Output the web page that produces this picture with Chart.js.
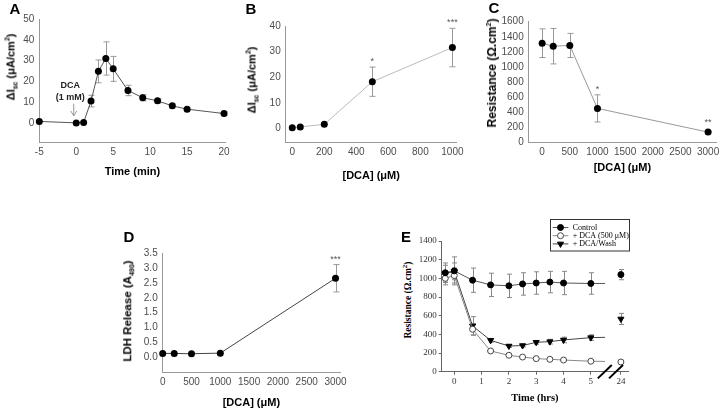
<!DOCTYPE html>
<html lang="en">
<head>
  <meta charset="UTF-8">
  <title>DCA effects on Isc, resistance and LDH release</title>
  <script src="https://cdn.jsdelivr.net/npm/chart.js"></script>
  <style>
    body { margin: 0; background: #fff; }
    #fig { position: relative; width: 720px; height: 410px; overflow: hidden; font-family: "Liberation Sans", Arial, sans-serif; }
    #fig canvas { position: absolute; }
    .letter { position: absolute; font-weight: bold; font-size: 15px; transform: translate(-50%, -50%); line-height: 1; }
    .yt { position: absolute; transform: translate(-50%, -50%) rotate(-90deg); white-space: nowrap; font-weight: bold; font-size: 11px; line-height: 1; color: #000; }
    .yt sub, .yt sup { font-size: 7px; line-height: 0; }
    .serif { font-family: "Liberation Serif", "Times New Roman", serif; }
  </style>
</head>
<body>
<div id="fig">
  <canvas id="chartA" width="240" height="200" style="left:0;top:0"></canvas>
  <canvas id="chartB" width="240" height="200" style="left:240px;top:0"></canvas>
  <canvas id="chartC" width="240" height="200" style="left:480px;top:0"></canvas>
  <canvas id="chartD" width="300" height="195" style="left:60px;top:215px"></canvas>
  <canvas id="chartE" width="300" height="195" style="left:420px;top:215px"></canvas>

  <!-- panel letters -->
  <div class="letter" style="left:15px;top:8px">A</div>
  <div class="letter" style="left:251px;top:8px">B</div>
  <div class="letter" style="left:494px;top:7px">C</div>
  <div class="letter" style="left:129px;top:236px">D</div>
  <div class="letter" style="left:406px;top:236px">E</div>

  <!-- y axis titles -->
  <div class="yt" style="left:11px;top:67px">ΔI<sub>sc</sub> (μA/cm<sup>2</sup>)</div>
  <div class="yt" style="left:252px;top:80px">ΔI<sub>sc</sub> (μA/cm<sup>2</sup>)</div>
  <div class="yt" style="left:492px;top:73px;font-size:12px">Resistance (Ω.cm<sup>2</sup>)</div>
  <div class="yt" style="left:128px;top:311px;font-size:11.5px">LDH Release (A<sub>490</sub>)</div>
  <div class="yt serif" style="left:409px;top:300px;font-size:9.5px">Resistance (Ω.cm<sup>2</sup>)</div>
</div>

<script>
  // ---- data ----
  // A: Isc time course after 1 mM DCA
  const timeA = [-5, 0, 1, 2, 3, 4, 5, 7, 9, 11, 13, 15, 20];
  const iscA = [0.7, 0, 0.2, 10.5, 24.8, 31, 26, 15.6, 12.1, 10.6, 8.2, 6.6, 4.5];
  const iscAErr = [0, 0, 0, 2.8, 5.5, 8, 6, 2.5, 1.5, 1, 1, 0.8, 1];
  const xTicksA = [-5, 0, 5, 10, 15, 20];
  const yTicksA = [0, 10, 20, 30, 40, 50];
  const dcaTime = 0;

  // B: Isc vs DCA dose
  const doseB = [0, 50, 200, 500, 1000];
  const iscB = [0.4, 0.7, 1.7, 18.3, 31.6];
  const iscBErr = [0, 0, 0, 5.7, 7.5];
  const starsB = ['', '', '', '*', '***'];
  const xTicksB = [0, 200, 400, 600, 800, 1000];
  const yTicksB = [0, 10, 20, 30, 40];

  // C: resistance vs DCA dose
  const doseC = [0, 200, 500, 1000, 3000];
  const resC = [1315, 1275, 1285, 450, 135];
  const resCErr = [190, 235, 160, 180, 10];
  const starsC = ['', '', '', '*', '**'];
  const xTicksC = [0, 500, 1000, 1500, 2000, 2500, 3000];
  const yTicksC = [0, 200, 400, 600, 800, 1000, 1200, 1400, 1600];

  // D: LDH release vs DCA dose
  const doseD = [0, 200, 500, 1000, 3000];
  const ldhD = [0.13, 0.13, 0.12, 0.14, 2.66];
  const ldhDErr = [0, 0, 0, 0, 0.46];
  const starsD = ['', '', '', '', '***'];
  const xTicksD = [0, 500, 1000, 1500, 2000, 2500, 3000];
  const yTicksD = [0, 0.5, 1, 1.5, 2, 2.5, 3, 3.5];

  // E: resistance over time (hrs)
  const timeE = [-0.33, 0, 0.67, 1.33, 2, 2.5, 3, 3.5, 4, 5, 24];
  const control = [1060, 1080, 980, 930, 920, 940, 950, 960, 950, 945, 1040];
  const controlErr = [105, 150, 130, 125, 125, 120, 120, 115, 125, 115, 55];
  const dca500 = [1000, 1030, 455, 222, 176, 157, 140, 133, 125, 112, 104];
  const dca500Err = [70, 80, 60, 0, 0, 0, 0, 0, 0, 0, 0];
  const dcaWash = [1050, 1075, 490, 336, 275, 280, 315, 322, 340, 365, 565];
  const dcaWashErr = [90, 90, 100, 20, 15, 15, 20, 25, 30, 30, 60];
  const lineEndE = [945, 110, 368];   // where the 0-5 h lines stop, before the break
  const xTicksE = [0, 1, 2, 3, 4, 5, 24];
  const yTicksE = [0, 200, 400, 600, 800, 1000, 1200, 1400];
  const legendE = ['Control', '+ DCA (500 μM)', '+ DCA/Wash'];

  // ---- helpers ----
  const sans = '"Liberation Sans", Arial, sans-serif';
  const serif = '"Liberation Serif", "Times New Roman", serif';
  // axis break in E: 24 h is drawn just after the break
  const breakStart = 5.52, pos24 = 6.1;
  const posE = t => (t === 24 ? pos24 : t);

  const pairs = (xs, ys) => xs.map((x, i) => ({ x: x, y: ys[i] }));

  // vertical error bars with caps, under the lines
  const errorBars = {
    id: 'errorBars',
    beforeDatasetsDraw(chart) {
      const ctx = chart.ctx, y = chart.scales.y;
      chart.data.datasets.forEach((ds, di) => {
        if (!ds.errors) return;
        const meta = chart.getDatasetMeta(di);
        ctx.save();
        ctx.strokeStyle = ds.errorColor || '#999';
        ctx.lineWidth = 1;
        meta.data.forEach((pt, i) => {
          const err = ds.errors[i], v = ds.data[i].y;
          if (!err || v == null) return;
          const x = Math.round(pt.x) + 0.5;
          const top = y.getPixelForValue(v + err), bot = y.getPixelForValue(v - err);
          const cap = ds.capWidth || 3;
          ctx.beginPath();
          ctx.moveTo(x, top); ctx.lineTo(x, bot);
          ctx.moveTo(x - cap, top); ctx.lineTo(x + cap, top);
          ctx.moveTo(x - cap, bot); ctx.lineTo(x + cap, bot);
          ctx.stroke();
        });
        ctx.restore();
      });
    }
  };

  // significance stars above the error bars
  const stars = {
    id: 'stars',
    afterDatasetsDraw(chart) {
      const ctx = chart.ctx, y = chart.scales.y;
      chart.data.datasets.forEach((ds, di) => {
        if (!ds.stars) return;
        const meta = chart.getDatasetMeta(di);
        ctx.save();
        ctx.fillStyle = '#555';
        ctx.font = '9px ' + sans;
        ctx.textAlign = 'center';
        ctx.textBaseline = 'bottom';
        meta.data.forEach((pt, i) => {
          if (!ds.stars[i]) return;
          const top = y.getPixelForValue(ds.data[i].y + (ds.errors ? ds.errors[i] : 0));
          ctx.fillText(ds.stars[i], pt.x, Math.min(top, pt.y - 4) - 1);
        });
        ctx.restore();
      });
    }
  };

  function options(o) {
    const grid = {
      display: !!o.tickMarks, drawOnChartArea: false, drawTicks: !!o.tickMarks,
      tickLength: 3, color: o.axisColor
    };
    return {
      responsive: false,
      animation: false,
      layout: { padding: { top: o.padTop, right: o.padRight, left: 0, bottom: 0 } },
      plugins: { legend: { display: false }, tooltip: { enabled: false } },
      scales: {
        x: {
          type: 'linear', bounds: 'data', min: o.xMin, max: o.xMax,
          afterBuildTicks: s => { s.ticks = o.xTicks.map(v => ({ value: v })); },
          afterFit: s => { s.height = o.xHeight; s.paddingLeft = 0; s.paddingRight = 0; },
          grid: grid,
          border: { display: true, color: o.axisColor, width: 1 },
          ticks: {
            color: o.tickColor, font: { family: o.family, size: o.tickSize },
            padding: o.xTickPad, maxRotation: 0, autoSkip: false,
            callback: o.xLabel || (v => v)
          },
          title: {
            display: true, text: o.xTitle, color: '#000',
            font: { family: o.family, size: o.titleSize, weight: 'bold' },
            padding: { top: 0, bottom: o.titlePad }
          }
        },
        y: {
          type: 'linear', bounds: 'data', min: o.yMin, max: o.yMax,
          afterBuildTicks: s => { s.ticks = o.yTicks.map(v => ({ value: v })); },
          afterFit: s => { s.width = o.yWidth; s.paddingTop = 0; s.paddingBottom = 0; },
          grid: grid,
          border: { display: true, color: o.axisColor, width: 1 },
          ticks: {
            color: o.tickColor, font: { family: o.family, size: o.tickSize },
            padding: o.yTickPad, autoSkip: false,
            callback: o.yLabel || (v => v)
          }
        }
      }
    };
  }

  const sansPanel = {
    family: sans, tickSize: 10, titleSize: 11, tickColor: '#4d4d4d', axisColor: '#999',
    xTickPad: 4, yTickPad: 5
  };

  function dotSeries(xs, ys, errs, lineColor, extra) {
    return Object.assign({
      data: pairs(xs, ys),
      errors: errs,
      borderColor: lineColor, borderWidth: 1,
      pointRadius: 3.5, pointBackgroundColor: '#000', pointBorderColor: '#000', pointBorderWidth: 0,
      tension: 0, clip: false
    }, extra || {});
  }

  // ---- A ----
  const dcaNote = {
    id: 'dcaNote',
    afterDatasetsDraw(chart) {
      const { ctx, scales: { x, y } } = chart;
      const px = x.getPixelForValue(dcaTime) - 2.5;
      const base = y.getPixelForValue(0);
      ctx.save();
      ctx.fillStyle = '#222';
      ctx.font = 'bold 9px ' + sans;
      ctx.textAlign = 'center';
      ctx.textBaseline = 'middle';
      ctx.fillText('DCA', px - 3.5, base - 37.5);
      ctx.fillText('(1 mM)', px - 3.5, base - 25.5);
      ctx.strokeStyle = '#999';
      ctx.lineWidth = 1;
      ctx.beginPath();
      ctx.moveTo(px, base - 19); ctx.lineTo(px, base - 7);
      ctx.moveTo(px - 3, base - 12); ctx.lineTo(px, base - 7); ctx.lineTo(px + 3, base - 12);
      ctx.stroke();
      ctx.restore();
    }
  };

  new Chart(document.getElementById('chartA'), {
    type: 'line',
    data: { datasets: [dotSeries(timeA, iscA, iscAErr, '#555')] },
    options: options(Object.assign({}, sansPanel, {
      xMin: -5, xMax: 20.2, yMin: -9.2, yMax: 50, xTicks: xTicksA, yTicks: yTicksA,
      yWidth: 39.3, xHeight: 58, padTop: 19, padRight: 14.5,
      xTitle: 'Time (min)', titlePad: 21.4
    })),
    plugins: [errorBars, dcaNote]
  });

  // ---- B ----
  new Chart(document.getElementById('chartB'), {
    type: 'line',
    data: { datasets: [dotSeries(doseB, iscB, iscBErr, '#bbb', { stars: starsB })] },
    options: options(Object.assign({}, sansPanel, {
      xMin: -41, xMax: 1027, yMin: -5.3, yMax: 40, xTicks: xTicksB, yTicks: yTicksB,
      yWidth: 45.7, xHeight: 57.7, padTop: 26, padRight: 23.3,
      xTitle: '[DCA] (μM)', titlePad: 17.7
    })),
    plugins: [errorBars, stars]
  });

  // ---- C ----
  new Chart(document.getElementById('chartC'), {
    type: 'line',
    data: { datasets: [dotSeries(doseC, resC, resCErr, '#999', { stars: starsC })] },
    options: options(Object.assign({}, sansPanel, {
      xMin: -243, xMax: 3143, yMin: 0, yMax: 1600, xTicks: xTicksC, yTicks: yTicksC,
      yWidth: 48.7, xHeight: 57.7, padTop: 21.7, padRight: 2,
      xTitle: '[DCA] (μM)', titlePad: 25
    })),
    plugins: [errorBars, stars]
  });

  // ---- D ----
  new Chart(document.getElementById('chartD'), {
    type: 'line',
    data: { datasets: [dotSeries(doseD, ldhD, ldhDErr, '#444', { stars: starsD })] },
    options: options(Object.assign({}, sansPanel, {
      xMin: 0, xMax: 3078, yMin: -0.505, yMax: 3.5, xTicks: xTicksD, yTicks: yTicksD,
      yWidth: 102.7, xHeight: 37.7, padTop: 38.3, padRight: 20,
      xTitle: '[DCA] (μM)', titlePad: 0,
      yLabel: v => v.toFixed(1)
    })),
    plugins: [errorBars, stars]
  });

  // ---- E ----
  function seriesE(vals, errs, endVal) {
    const data = [], e = [], shown = [];
    timeE.forEach((t, i) => {
      if (t === 24) {
        // line runs on to the break, then stops
        data.push({ x: breakStart, y: endVal }); e.push(0); shown.push(false);
        data.push({ x: breakStart, y: null }); e.push(0); shown.push(false);
      }
      data.push({ x: posE(t), y: vals[i] }); e.push(errs[i]); shown.push(true);
    });
    return { data: data, errors: e, shown: shown };
  }

  function datasetE(vals, errs, endVal, style) {
    const s = seriesE(vals, errs, endVal);
    return Object.assign({
      data: s.data, errors: s.errors, errorColor: '#888', capWidth: 2.5,
      borderWidth: 1, tension: 0, clip: false, spanGaps: false,
      pointRadius: s.shown.map(v => (v ? style.radius : 0)),
      pointBorderWidth: 1
    }, style);
  }

  const setsE = [
    datasetE(control, controlErr, lineEndE[0], {
      label: legendE[0], borderColor: '#555', radius: 3,
      pointStyle: 'circle', pointBackgroundColor: '#000', pointBorderColor: '#000'
    }),
    datasetE(dca500, dca500Err, lineEndE[1], {
      label: legendE[1], borderColor: '#888', radius: 3,
      pointStyle: 'circle', pointBackgroundColor: '#fff', pointBorderColor: '#444'
    }),
    datasetE(dcaWash, dcaWashErr, lineEndE[2], {
      label: legendE[2], borderColor: '#444', radius: 3.5,
      pointStyle: 'triangle', pointRotation: 180, pointBackgroundColor: '#000', pointBorderColor: '#000'
    })
  ];

  // boxed legend and the "//" axis break
  const boxLegendE = {
    id: 'boxLegendE',
    afterDraw(chart) {
      const { ctx, scales: { x }, chartArea } = chart;
      ctx.save();
      // axis break marks
      ctx.strokeStyle = '#000';
      ctx.lineWidth = 2;
      [5.51, 5.92].forEach(v => {
        const cx = x.getPixelForValue(v), cy = chartArea.bottom;
        ctx.beginPath();
        ctx.moveTo(cx - 7, cy + 6.7);
        ctx.lineTo(cx + 7, cy - 6.7);
        ctx.stroke();
      });
      // legend
      const bx = 130.5, by = 4.5, bw = 79, bh = 31.5;
      ctx.lineWidth = 1;
      ctx.strokeStyle = '#333';
      ctx.strokeRect(bx, by, bw, bh);
      ctx.font = '8px ' + serif;
      ctx.textBaseline = 'middle';
      ctx.textAlign = 'left';
      chart.data.datasets.forEach((ds, i) => {
        const ly = 12.5 + i * 8.2;
        ctx.strokeStyle = ds.borderColor;
        ctx.beginPath();
        ctx.moveTo(132.7, ly); ctx.lineTo(148.3, ly);
        ctx.stroke();
        ctx.fillStyle = ds.pointBackgroundColor;
        ctx.strokeStyle = ds.pointBorderColor;
        Chart.helpers.drawPoint(ctx, {
          pointStyle: ds.pointStyle, rotation: ds.pointRotation || 0,
          radius: ds.radius, borderWidth: 1
        }, 140.5, ly);
        ctx.fillStyle = '#000';
        ctx.fillText(ds.label, 152.7, ly + 0.5);
      });
      ctx.restore();
    }
  };

  new Chart(document.getElementById('chartE'), {
    type: 'line',
    data: { datasets: setsE },
    options: options({
      family: serif, tickSize: 9, titleSize: 10.5, tickColor: '#333', axisColor: '#666',
      xTickPad: 2, yTickPad: 2, tickMarks: true,
      xMin: -0.46, xMax: 6.36, yMin: 0, yMax: 1400,
      xTicks: xTicksE.map(posE), yTicks: yTicksE,
      yWidth: 21.7, xHeight: 38.3, padTop: 26, padRight: 92,
      xTitle: 'Time (hrs)', titlePad: 5,
      xLabel: v => (v === pos24 ? '24' : v)
    }),
    plugins: [errorBars, boxLegendE]
  });
</script>
</body>
</html>
